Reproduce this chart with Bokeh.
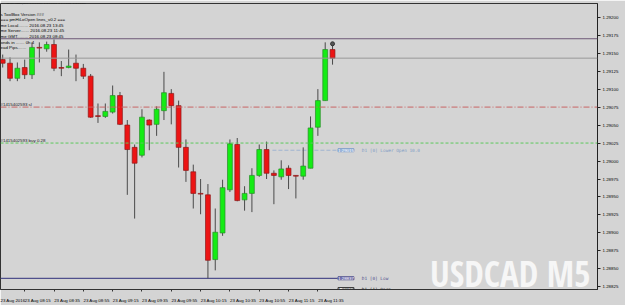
from bokeh.plotting import figure
from bokeh.models import Range1d, Span, Label, FixedTicker, PrintfTickFormatter, ColumnDataSource, BoxAnnotation
from bokeh.embed import file_html
from bokeh.resources import INLINE
from bokeh.core.properties import value

# ---- data (USDCAD M5, 23 Aug 2016) ----
times = ["08:00", "08:05", "08:10", "08:15", "08:20", "08:25", "08:30", "08:35", "08:40", "08:45",
         "08:50", "08:55", "09:00", "09:05", "09:10", "09:15", "09:20", "09:25", "09:30", "09:35",
         "09:40", "09:45", "09:50", "09:55", "10:00", "10:05", "10:10", "10:15", "10:20", "10:25",
         "10:30", "10:35", "10:40", "10:45", "10:50", "10:55", "11:00", "11:05", "11:10", "11:15",
         "11:20", "11:25", "11:30", "11:35", "11:40", "11:45"]
opens = [1.29141, 1.29136, 1.29115, 1.29130, 1.29120, 1.29158, 1.29156, 1.29162, 1.29130, 1.29130,
         1.29136, 1.29129, 1.29118, 1.29063, 1.29062, 1.29068, 1.29091, 1.29050, 1.29019, 1.29008,
         1.29057, 1.29051, 1.29070, 1.29094, 1.29077, 1.29019, 1.28985, 1.28955, 1.28953, 1.28863,
         1.28900, 1.28960, 1.29023, 1.28946, 1.28955, 1.28980, 1.29016, 1.28983, 1.28978, 1.28990,
         1.28980, 1.28979, 1.28990, 1.29047, 1.29084, 1.29155]
highs = [1.29148, 1.29144, 1.29137, 1.29141, 1.29165, 1.29165, 1.29166, 1.29169, 1.29139, 1.29155,
         1.29148, 1.29135, 1.29121, 1.29080, 1.29080, 1.29105, 1.29096, 1.29057, 1.29023, 1.29072,
         1.29058, 1.29076, 1.29124, 1.29100, 1.29084, 1.29030, 1.28995, 1.28975, 1.28968, 1.28934,
         1.28974, 1.29030, 1.29032, 1.28965, 1.28990, 1.29023, 1.29027, 1.28987, 1.29001, 1.28994,
         1.28980, 1.29019, 1.29062, 1.29100, 1.29165, 1.29163]
lows = [1.29130, 1.29111, 1.29111, 1.29114, 1.29114, 1.29137, 1.29152, 1.29125, 1.29118, 1.29129,
        1.29111, 1.29114, 1.29060, 1.29053, 1.29060, 1.29066, 1.29050, 1.28953, 1.28920, 1.29005,
        1.29015, 1.29035, 1.29057, 1.29051, 1.28991, 1.28971, 1.28934, 1.28926, 1.28837, 1.28848,
        1.28896, 1.28957, 1.28944, 1.28931, 1.28929, 1.28978, 1.28975, 1.28940, 1.28974, 1.28961,
        1.28948, 1.28974, 1.28990, 1.29035, 1.29084, 1.29134]
closes = [1.29136, 1.29115, 1.29129, 1.29120, 1.29158, 1.29157, 1.29162, 1.29129, 1.29129, 1.29132,
          1.29129, 1.29118, 1.29061, 1.29062, 1.29069, 1.29091, 1.29051, 1.29016, 1.28997, 1.29061,
          1.29050, 1.29072, 1.29095, 1.29077, 1.29019, 1.28987, 1.28955, 1.28954, 1.28862, 1.28901,
          1.28963, 1.29024, 1.28945, 1.28955, 1.28980, 1.29016, 1.28983, 1.28980, 1.28989, 1.28980,
          1.28979, 1.28993, 1.29046, 1.29084, 1.29155, 1.29143]

xtick_bars = [-1, 3, 7, 11, 15, 19, 23, 27, 31, 35, 39, 43]
xtick_labels = ["23 Aug 2016", "23 Aug 08:15", "23 Aug 08:35", "23 Aug 08:55", "23 Aug 09:15",
                "23 Aug 09:35", "23 Aug 09:55", "23 Aug 10:15", "23 Aug 10:35", "23 Aug 10:55",
                "23 Aug 11:15", "23 Aug 11:35"]
ytick_values = [1.28825, 1.28850, 1.28875, 1.28900, 1.28925, 1.28950, 1.28975, 1.29000,
                1.29025, 1.29050, 1.29075, 1.29100, 1.29125, 1.29150, 1.29175, 1.29200]

bid_price = 1.29143
purple_level = 1.29170
sl_level = 1.29075
buy_level = 1.29025
d1_lower_open = 1.29015
d1_low = 1.28837
d1_prev_open = 1.28822

info_lines = ["s ToolBox Version ###",
              "=== pmHiLoOpen lines_v0.2 ===",
              "me Local........ 2016.08.23 13:45",
              "me Server....... 2016.08.23 11:45",
              "me GMT......... 2016.08.23 08:45",
              "onds in ....... 0h 4",
              "ead Pips......."]

FS = "4.4px"
FONT = "Liberation Sans"
MONO = "DejaVu Sans Mono"
TXT = "#050505"

# ---- figure ----
BG = "#d4d4d4"
p = figure(width=625, height=305, x_range=Range1d(-0.3, 81.15), y_range=Range1d(1.288214, 1.29219),
           output_backend="svg", toolbar_location=None, y_axis_location="right")
p.min_border_left = 0
p.min_border_top = 3
p.min_border_right = 28
p.min_border_bottom = 10
p.background_fill_color = BG
p.border_fill_color = BG
p.outline_line_color = "#333333"
p.xgrid.visible = False
p.ygrid.visible = False

# white strip at the far right edge of the window
p.add_layout(BoxAnnotation(left=84.2, right=90, bottom=1.2870, top=1.2935, fill_color="#f4f4f4",
                           fill_alpha=1.0, line_color=None, level="underlay"))

# y axis
yax = p.yaxis[0]
yax.ticker = FixedTicker(ticks=ytick_values)
yax.formatter = PrintfTickFormatter(format="%.5f")
yax.major_label_text_font_size = FS
yax.major_label_text_font = FONT
yax.major_label_text_color = TXT
yax.major_tick_out = 3
yax.major_tick_in = 0
yax.major_label_standoff = 2
yax.axis_line_color = "#222222"
yax.major_tick_line_color = "#222222"

# x axis
off = 1.8
major = [b + off for b in xtick_bars]
xax = p.xaxis[0]
xax.ticker = FixedTicker(ticks=major, minor_ticks=xtick_bars)
xax.major_label_overrides = {m: lab for m, lab in zip(major, xtick_labels)}
xax.major_label_text_font_size = FS
xax.major_label_text_font = FONT
xax.major_label_text_color = TXT
xax.major_tick_line_color = None
xax.minor_tick_out = 2
xax.minor_tick_in = 0
xax.minor_tick_line_color = "#333333"
xax.major_label_standoff = 2
xax.axis_line_color = "#333333"

# watermark (drawn beneath the marks)
p.add_layout(Label(x=590, y=-7, x_units="screen", y_units="screen", text="USDCAD M5", text_align="right",
                   text_baseline="bottom", level="underlay",
                   text_font_size="35px", text_font_style="bold", text_color="#f6f6f6",
                   text_font="Noto Sans ExtraCondensed, Open Sans Condensed, Roboto Condensed, Noto Sans Condensed, Liberation Sans Narrow, DejaVu Sans Condensed, sans-serif"))

# level lines
p.add_layout(Span(location=sl_level, dimension="width", line_color="#c86464", line_dash="6 2 1 2", line_width=1))
p.add_layout(Span(location=buy_level, dimension="width", line_color="#5cc85c", line_dash="3 2", line_width=1))
p.add_layout(Span(location=purple_level, dimension="width", line_color="#6e5a78", line_width=1))
p.add_layout(Span(location=bid_price, dimension="width", line_color="#9a9a9a", line_width=1))

idx = list(range(len(times)))
p.segment(x0=[36.8], y0=[d1_lower_open], x1=[45.7], y1=[d1_lower_open], line_color="#9fb4d0", line_dash="4 2", line_width=1)
p.segment(x0=[-0.3], y0=[d1_low], x1=[45.7], y1=[d1_low], line_color="#50508c", line_width=1.2)

# candles
up = [c >= o for o, c in zip(opens, closes)]
src = ColumnDataSource(dict(
    x=idx, o=opens, h=highs, l=lows, c=closes,
    top=[max(o, c) for o, c in zip(opens, closes)],
    bot=[min(o, c) for o, c in zip(opens, closes)],
    fill=["#14ec14" if u else "#ec1414" for u in up],
    line=["#2a8c2a" if u else "#8c1a1a" for u in up],
))
p.segment(x0="x", y0="l", x1="x", y1="h", source=src, line_color="#4a4a4a", line_width=1)
p.vbar(x="x", width=0.66, top="top", bottom="bot", source=src, fill_color="fill", line_color="line", line_width=0.7)
p.scatter(x=[idx[-1]], y=[highs[-1]], size=4, marker="circle", fill_color="#555555", line_color="#333333")

# right-axis price boxes
p.add_layout(Label(x=81.3, y=purple_level, text="1.29170", text_font_size=FS, text_color="white",
                   text_baseline="middle", background_fill_color="#9b3d9b", text_font=FONT))
p.add_layout(Label(x=81.3, y=bid_price, text="1.29143", text_font_size=FS, text_color="white",
                   text_baseline="middle", background_fill_color="#111111", text_font=FONT))

# level labels
p.add_layout(Label(x=-0.3, y=sl_level, text="#1415402593 sl", text_font_size=FS, text_color="#222222",
                   text_baseline="bottom", text_font=FONT))
p.add_layout(Label(x=-0.3, y=buy_level, text="#1415402593 buy 0.28", text_font_size=FS, text_color="#222222",
                   text_baseline="bottom", text_font=FONT))
p.add_layout(Label(x=45.75, y=d1_lower_open, text="1.29015", text_font_size=FS, text_color="white",
                   text_baseline="middle", background_fill_color="#98b6dc", border_line_color="#7a9ac8",
                   text_font=FONT))
p.add_layout(Label(x=49, y=d1_lower_open, text="D1 [0] Lower Open 10.0", text_font_size=FS,
                   text_color="#7f9cc4", text_baseline="middle", text_font=MONO))
p.add_layout(Label(x=45.75, y=d1_low, text="1.28837", text_font_size=FS, text_color="white",
                   text_baseline="middle", background_fill_color="#7676b4", border_line_color="#50508c",
                   text_font=FONT))
p.add_layout(Label(x=49, y=d1_low, text="D1 [0] Low", text_font_size=FS,
                   text_color="#50508c", text_baseline="middle", text_font=MONO))
# partially hidden previous-day open (clipped to frame)
p.text(x=[45.75], y=[d1_prev_open], text=["1.28822"], text_font_size=FS, text_color="#222222",
       text_baseline="middle", text_font=value(FONT), background_fill_color="white",
       border_line_color="#333333")
p.text(x=[49], y=[d1_prev_open], text=["D1 [1] Open"], text_font_size=FS, text_color="#333333",
       text_baseline="middle", text_font=value(MONO))

# info block (screen units, from frame bottom-left)
p.add_layout(Label(x=6, y=286.5, x_units="screen", y_units="screen",
                   text="USDCAD,M5  1.29155 1.29163 1.29134 1.29143", text_font_size="3.7px",
                   text_color=TXT, text_baseline="middle", text_font=FONT))
for k, line in enumerate(info_lines):
    p.add_layout(Label(x=0, y=275.5 - 5.6 * k, x_units="screen", y_units="screen", text=line,
                       text_font_size=FS, text_color=TXT, text_baseline="middle",
                       text_font=FONT))

open("out.html", "w").write(file_html(p, INLINE))
